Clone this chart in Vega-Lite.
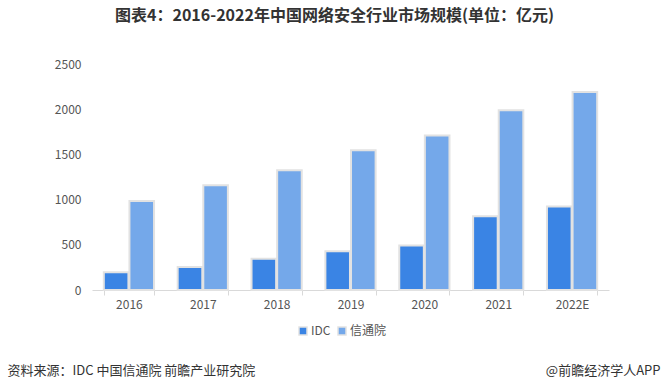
{
  "$schema": "https://vega.github.io/schema/vega-lite/v6.json",
  "width": 517,
  "height": 226,
  "autosize": {"type": "none"},
  "padding": {"left": 92, "top": 64, "right": 59, "bottom": 100},
  "background": "white",
  "config": {
    "view": {"stroke": null},
    "font": "Noto Sans CJK SC"
  },
  "title": {
    "text": "图表4：2016-2022年中国网络安全行业市场规模(单位：亿元)",
    "fontSize": 16,
    "fontWeight": "bold",
    "color": "#333333",
    "font": "Noto Sans CJK SC",
    "anchor": "middle",
    "dx": -16,
    "offset": 34
  },
  "data": {
    "values": [
      {"year": "2016", "source": "IDC", "value": 195},
      {"year": "2016", "source": "信通院", "value": 985},
      {"year": "2017", "source": "IDC", "value": 255},
      {"year": "2017", "source": "信通院", "value": 1160},
      {"year": "2018", "source": "IDC", "value": 345},
      {"year": "2018", "source": "信通院", "value": 1325},
      {"year": "2019", "source": "IDC", "value": 428},
      {"year": "2019", "source": "信通院", "value": 1545},
      {"year": "2020", "source": "IDC", "value": 492},
      {"year": "2020", "source": "信通院", "value": 1710},
      {"year": "2021", "source": "IDC", "value": 815},
      {"year": "2021", "source": "信通院", "value": 1988},
      {"year": "2022E", "source": "IDC", "value": 925},
      {"year": "2022E", "source": "信通院", "value": 2190}
    ]
  },
  "mark": {"type": "bar", "stroke": "#e2e2e2", "strokeWidth": 2},
  "encoding": {
    "x": {
      "field": "year",
      "type": "nominal",
      "sort": null,
      "scale": {"paddingInner": 0.32, "paddingOuter": 0.16},
      "axis": {
        "title": "@前瞻经济学人APP",
        "titleX": 568,
        "titleY": 80,
        "titleAlign": "right",
        "titleBaseline": "middle",
        "titleFontSize": 13,
        "titleFontWeight": "normal",
        "titleColor": "#333333",
        "labelAngle": 0,
        "labelFontSize": 12,
        "labelColor": "#555555",
        "labelPadding": 4,
        "domainColor": "#d9d9d9",
        "tickColor": "#d9d9d9",
        "tickSize": 5,
        "tickBand": "extent",
        "grid": false
      }
    },
    "xOffset": {"field": "source", "type": "nominal", "scale": {"paddingInner": 0.04}},
    "y": {
      "field": "value",
      "type": "quantitative",
      "scale": {"domain": [0, 2500]},
      "axis": {
        "values": [0, 500, 1000, 1500, 2000, 2500],
        "format": "d",
        "title": "资料来源：IDC 中国信通院 前瞻产业研究院",
        "titleAngle": 0,
        "titleX": -85,
        "titleY": 306,
        "titleAlign": "left",
        "titleBaseline": "middle",
        "titleFontSize": 13,
        "titleFontWeight": "normal",
        "titleColor": "#333333",
        "domain": false,
        "ticks": false,
        "grid": false,
        "labelPadding": 11,
        "labelFontSize": 12,
        "labelColor": "#555555"
      }
    },
    "color": {
      "field": "source",
      "type": "nominal",
      "scale": {"domain": ["IDC", "信通院"], "range": ["#3a84e4", "#74a8ea"]},
      "legend": {
        "title": null,
        "orient": "none",
        "direction": "horizontal",
        "legendX": 205,
        "legendY": 261,
        "symbolType": "square",
        "symbolSize": 64,
        "symbolStrokeColor": "#e2e2e2",
        "symbolStrokeWidth": 1.5,
        "labelFontSize": 12,
        "labelColor": "#555555",
        "columnPadding": 4,
        "labelOffset": 2
      }
    }
  }
}
